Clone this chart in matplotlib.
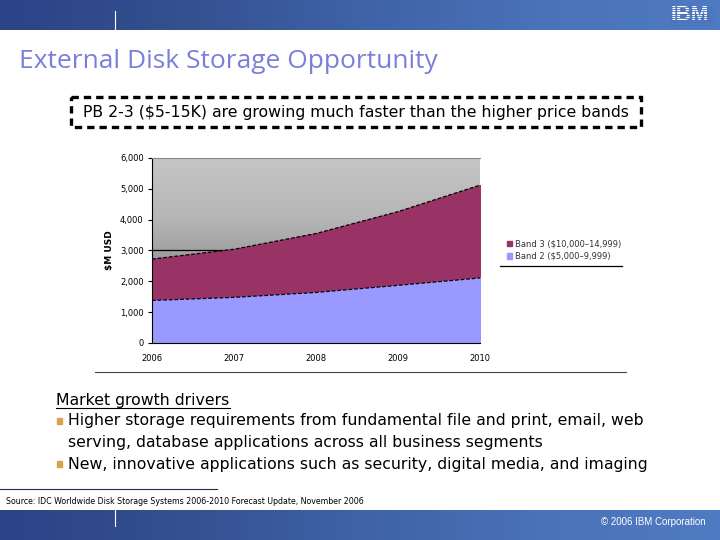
import numpy as np
import matplotlib
matplotlib.use("Agg")
import matplotlib.pyplot as plt
from matplotlib.patches import Rectangle
from matplotlib.colors import LinearSegmentedColormap

years = [2006, 2007, 2008, 2009, 2010]
band2 = [1380, 1480, 1640, 1870, 2110]   # $5,000-9,999
band3 = [1340, 1560, 1910, 2390, 3010]   # $10,000-14,999
labels = ["Band 3 ($10,000\u201314,999)", "Band 2 ($5,000\u20139,999)"]
yticks = [0, 1000, 2000, 3000, 4000, 5000, 6000]

title = "External Disk Storage Opportunity"
callout = "PB 2-3 ($5-15K) are growing much faster than the higher price bands"
drivers_head = "Market growth drivers"
drivers = [
    ["Higher storage requirements from fundamental file and print, email, web",
     "serving, database applications across all business segments"],
    ["New, innovative applications such as security, digital media, and imaging"],
]
source = "Source: IDC Worldwide Disk Storage Systems 2006-2010 Forecast Update, November 2006"

plt.rcParams['font.family'] = ['DejaVu Sans']

fig = plt.figure(figsize=(7.2, 5.4), dpi=100)

# page layer in pixel coords
bg = fig.add_axes([0, 0, 1, 1])
bg.set_xlim(0, 720)
bg.set_ylim(540, 0)
bg.axis('off')

# blue banners
grad = np.linspace(0, 1, 256).reshape(1, -1)
blue = LinearSegmentedColormap.from_list('b', ['#2b4387', '#34508f', '#3f62a8', '#4a72b8', '#4f7bc2'])
bg.imshow(grad, cmap=blue, extent=[0, 720, 30, 0], aspect='auto', zorder=0)
bg.imshow(grad, cmap=blue, extent=[0, 720, 540, 510], aspect='auto', zorder=0)
bg.plot([115, 115], [11, 30], color='white', lw=0.8, zorder=1)
bg.plot([115, 115], [510, 526], color='white', lw=0.8, zorder=1)
bg.text(690, 15, "IBM", color='white', fontsize=15, fontweight='bold',
        ha='center', va='center', family='Liberation Sans', zorder=2)
for yy in np.arange(7, 25, 2.2):
    bg.plot([670, 712], [yy, yy], color='#4a72b8', lw=0.6, zorder=3)
bg.text(706, 522, "\u00a9 2006 IBM Corporation", color='white', fontsize=7,
        ha='right', va='center', family='Liberation Sans')

bg.text(19, 62, title, color='#7a7fda', fontsize=19, ha='left', va='center',
        family='Open Sans')

# dashed callout box
bg.add_patch(Rectangle((71, 97), 570, 30, fill=False, ec='black', lw=2.4,
                       ls=(0, (2.2, 1.5))))
bg.text(356, 112, callout, fontsize=11.3, ha='center', va='center')

# chart frame bottom and legend rule
bg.plot([95, 626], [372, 372], color='#444444', lw=0.8)
bg.plot([500, 622], [266, 266], color='black', lw=0.9)

# text block
fs = 11.3
bg.text(56, 400, drivers_head, fontsize=fs, ha='left', va='center')
bg.plot([56, 230], [408, 408], color='black', lw=0.8)
ty = 421
for item in drivers:
    bg.add_patch(Rectangle((57, ty - 3.5), 4.5, 6, color='#d9a34b'))
    for i, line in enumerate(item):
        bg.text(68, ty, line, fontsize=fs, ha='left', va='center')
        ty += 21.5

bg.plot([0, 217], [489, 489], color='#1f2f4f', lw=0.8)
bg.text(6, 501, source, fontsize=5.7, ha='left', va='center')

# chart
ax = fig.add_axes([152 / 720, (540 - 343) / 540, 328 / 720, 185 / 540])
gray = LinearSegmentedColormap.from_list('g', ['#c6c6c6', '#b6b6b6', '#8e8e8e', '#7a7a7a'])
ax.imshow(np.linspace(0, 1, 256).reshape(-1, 1), cmap=gray,
          extent=[years[0], years[-1], 0, 6000], aspect='auto', zorder=0)
ax.axhline(3000, color='black', lw=0.9, zorder=1)
top = np.array(band2) + np.array(band3)
ax.fill_between(years, band2, top, color='#993366', zorder=2, label=labels[0])
ax.fill_between(years, 0, band2, color='#9999ff', zorder=2, label=labels[1])
ax.plot(years, top, color='black', lw=0.9, ls=(0, (3, 1.5)), zorder=3)
ax.plot(years, band2, color='black', lw=0.9, ls=(0, (3, 1.5)), zorder=3)

ax.set_xlim(years[0], years[-1])
ax.set_ylim(0, 6000)
ax.set_yticks(yticks)
ax.set_yticklabels([f"{v:,}" for v in yticks])
ax.set_xticks(years)
ax.set_xticklabels([str(y) for y in years])
ax.tick_params(labelsize=6, length=3, width=0.8, pad=3)
ax.tick_params(axis='x', length=0, pad=8)
ax.set_ylabel("$M USD", fontsize=6.5, fontweight='bold', labelpad=4)
ax.spines['right'].set_visible(False)
ax.spines['top'].set_color('#888888')
ax.spines['top'].set_linewidth(0.8)

ax.legend(loc='center left', bbox_to_anchor=(503 / 720, 1 - 250 / 540),
          bbox_transform=fig.transFigure, frameon=False, fontsize=6,
          handlelength=0.6, handleheight=0.6, handletextpad=0.3,
          labelspacing=0.45, borderpad=0, labelcolor='#333333')

fig.savefig("out.png", dpi=100)
